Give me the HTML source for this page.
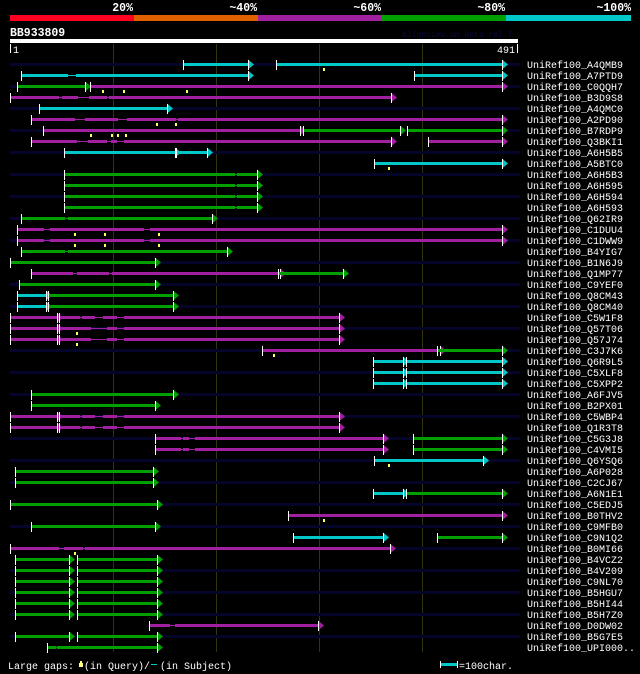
<!DOCTYPE html>
<html><head><meta charset="utf-8"><style>
body{margin:0;background:#000;width:640px;height:674px;overflow:hidden}
svg{display:block}
rect{shape-rendering:crispEdges}
text{font-family:"Liberation Mono",monospace}
</style></head><body>
<svg id="chart" width="640" height="674" viewBox="0 0 640 674" xmlns="http://www.w3.org/2000/svg">
<g>
<rect x="10" y="15" width="124" height="6" fill="#ff0020"/>
<rect x="134" y="15" width="124" height="6" fill="#e06000"/>
<rect x="258" y="15" width="124" height="6" fill="#a020a0"/>
<rect x="382" y="15" width="124" height="6" fill="#00a000"/>
<rect x="506" y="15" width="125" height="6" fill="#00c8c8"/>
<text x="133" y="11" fill="#fff" font-size="11.5" font-weight="bold" text-anchor="end">20%</text>
<text x="257" y="11" fill="#fff" font-size="11.5" font-weight="bold" text-anchor="end">~40%</text>
<text x="381" y="11" fill="#fff" font-size="11.5" font-weight="bold" text-anchor="end">~60%</text>
<text x="505" y="11" fill="#fff" font-size="11.5" font-weight="bold" text-anchor="end">~80%</text>
<text x="631" y="11" fill="#fff" font-size="11.5" font-weight="bold" text-anchor="end">~100%</text>
</g>
<text x="10" y="36" fill="#fff" font-size="11.5" font-weight="bold">BB933809</text>
<text x="402" y="37" fill="#0a0a40" font-size="8">AlignView.pm Beta rel.7</text>
<rect x="10" y="39" width="508" height="4" fill="#fff"/>
<rect x="10" y="44" width="1" height="9" fill="#fff"/>
<text x="13" y="53" fill="#fff" font-size="10">1</text>
<rect x="517" y="44" width="1" height="9" fill="#fff"/>
<text x="515" y="53" fill="#fff" font-size="10" text-anchor="end">491</text>
<g id="grid"></g>
<g id="rows"></g>
<g>
<text x="8" y="669" fill="#fff" font-size="10">Large gaps:</text>
<rect x="80" y="661" width="2" height="2" fill="#ffff80"/>
<rect x="79" y="663" width="4" height="4" fill="#ffff80"/>
<text x="84" y="669" fill="#fff" font-size="10">(in Query)/</text>
<rect x="151" y="664" width="6" height="1" fill="#00c8c8"/>
<text x="160" y="669" fill="#fff" font-size="10">(in Subject)</text>
<rect x="440" y="661" width="1" height="7" fill="#fff"/>
<rect x="441" y="663" width="16" height="3" fill="#00c8c8"/>
<rect x="457" y="661" width="1" height="7" fill="#fff"/>
<text x="459" y="669" fill="#fff" font-size="10">=100char.</text>
</g>
</svg>
<script>
const gridTicks = [100, 200, 300, 400];
const rowNames = ["A4QMB9","A7PTD9","C0QQH7","B3D9S8","A4QMC0","A2PD90","B7RDP9","Q3BKI1","A6H5B5","A5BTC0","A6H5B3","A6H595","A6H594","A6H593","Q62IR9","C1DUU4","C1DWW9","B4YIG7","B1N6J9","Q1MP77","C9YEF0","Q8CM43","Q8CM40","C5W1F8","Q57T06","Q57J74","C3J7K6","Q6R9L5","C5XLF8","C5XPP2","A6FJV5","B2PX01","C5WBP4","Q1R3T8","C5G3J8","C4VMI5","Q6YSQ6","A6P028","C2CJ67","A6N1E1","C5EDJ5","B0THV2","C9MFB0","C9N1Q2","B0MI66","B4VCZ2","B4V209","C9NL70","B5HGU7","B5HI44","B5H7Z0","D0DW02","B5G7E5","UPI000.."];
// segments: [queryStart, queryEnd, identityClass]
const rowSegs = [
 [[168,231,"c"],[258,478,"c"]],
 [[11,231,"c"],[392,478,"c"]],
 [[7,73,"g"],[78,478,"m"]],
 [[0,370,"m"]],
 [[28,152,"c"]],
 [[20,478,"m"]],
 [[32,282,"m"],[284,379,"g"],[385,478,"g"]],
 [[20,370,"m"],[406,478,"m"]],
 [[52,160,"c"],[161,191,"c"]],
 [[353,478,"c"]],
 [[52,240,"g"]],[[52,240,"g"]],[[52,240,"g"]],[[52,240,"g"]],
 [[11,196,"g"]],
 [[7,478,"m"]],[[7,478,"m"]],
 [[11,211,"g"]],
 [[0,141,"g"]],
 [[20,262,"m"],[260,323,"g"]],
 [[9,141,"g"]],
 [[7,35,"c"],[37,158,"g"]],[[7,35,"c"],[37,158,"g"]],
 [[0,46,"m"],[48,319,"m"]],[[0,46,"m"],[48,319,"m"]],[[0,46,"m"],[48,319,"m"]],
 [[245,417,"m"],[415,478,"g"]],
 [[352,382,"c"],[384,478,"c"]],[[352,382,"c"],[384,478,"c"]],[[352,382,"c"],[384,478,"c"]],
 [[20,158,"g"]],
 [[20,141,"g"]],
 [[0,46,"m"],[48,319,"m"]],[[0,46,"m"],[48,319,"m"]],
 [[141,362,"m"],[391,478,"g"]],[[141,362,"m"],[391,478,"g"]],
 [[353,459,"c"]],
 [[5,139,"g"]],[[5,139,"g"]],
 [[352,382,"c"],[384,478,"g"]],
 [[0,143,"g"]],
 [[270,478,"m"]],
 [[20,141,"g"]],
 [[275,362,"c"],[415,478,"g"]],
 [[0,369,"m"]],
 [[5,57,"g"],[65,143,"g"]],[[5,57,"g"],[65,143,"g"]],[[5,57,"g"],[65,143,"g"]],[[5,57,"g"],[65,143,"g"]],[[5,57,"g"],[65,143,"g"]],[[5,57,"g"],[65,143,"g"]],
 [[135,299,"m"]],
 [[5,57,"g"],[65,143,"g"]],
 [[36,143,"g"]]
];
// subject gaps [from, to] per row
const rowGaps = [
 [],[[56,64]],[],[[48,50],[66,77],[94,96]],[],[[63,73],[105,114],[161,163]],[],[[65,76],[94,98],[104,111]],[],[],
 [[218,220]],[[218,220]],[[218,220]],[[218,220]],[[53,56]],[[33,39],[130,136]],[[33,39],[130,136]],[[53,56]],[],[[61,65],[96,99]],
 [],[],[],[[68,70],[83,90],[104,111]],[[79,94],[104,111]],[[79,94],[104,111]],[],[],[],[],
 [],[],[[68,70],[83,90],[104,111]],[[68,70],[83,90],[104,111]],[[166,168],[174,180]],[[166,168],[174,180]],[],[],[],[],
 [],[],[],[],[[48,52],[71,73]],[],[],[],[],[],[],[[155,160]],[],[[45,46]]
];
// query gap markers per row
const rowMarks = [
 [304],[],[89,110,171],[],[],[142,160],[78,98,104,112],[],[],[367],
 [],[],[],[],[],[62,91,144],[62,91,144],[],[],[],
 [],[],[],[],[64],[64],[255],[],[],[],
 [],[],[],[],[],[],[367],[],[],[],
 [],[304],[],[],[62],[],[],[],[],[],[],[],[],[]
];
const colors = {c:"#00c8c8", m:"#a020a0", g:"#00a000"};
const X0 = 10, SCALE = 1.03, ROW0 = 64, ROWH = 11;
function xs(q){ return Math.round(X0 + q*SCALE); }
function ys(i){ return ROW0 + i*ROWH; }
const NS = "http://www.w3.org/2000/svg";
function mk(tag, attrs, parent){
  const el = document.createElementNS(NS, tag);
  for (const k in attrs) el.setAttribute(k, attrs[k]);
  parent.appendChild(el);
  return el;
}
const grid = document.getElementById('grid');
gridTicks.forEach(t => {
  const l = mk('rect', {x: xs(t), y: 44, width: 1, height: 608, fill: '#34340c'}, grid);
  
  
});
const rows = document.getElementById('rows');
rowNames.forEach((name, i) => {
  const y = ys(i);
  const g = mk('g', {}, rows);
  
  
  if (i % 2 === 0) {
    const bg = mk('rect', {x: 10, y: y-1, width: 510, height: 3, fill: '#05052a'}, g);
    
    
  }
  const segs = rowSegs[i] || [];
  const gaps = rowGaps[i] || [];
  segs.forEach(s => {
    const col = colors[s[2]];
    const x1 = xs(s[0]), x2 = xs(s[1]);
    let cur = x1;
    const inGaps = gaps.filter(gp => gp[0] >= s[0] && gp[1] <= s[1]).sort((a,b)=>a[0]-b[0]);
    inGaps.forEach(gp => {
      const a = xs(gp[0]), b = xs(gp[1]);
      mk('rect', {x: cur, y: y-1, width: Math.max(0,a-cur), height: 3, fill: col}, g);
      const gl = mk('rect', {x: a, y: y, width: Math.max(1,b-a), height: 1, fill: col}, g);
      
      
      cur = b;
    });
    const bar = mk('rect', {x: cur, y: y-1, width: Math.max(0,x2-cur), height: 3, fill: col}, g);
    
    
    const tk = mk('rect', {x: x1, y: y-4, width: 1, height: 10, fill: '#fff'}, g);
    
    
    const ar = mk('polygon', {points: `${x2},${y-4.5} ${x2+6},${y+0.5} ${x2},${y+5.5}`, fill: col}, g);
    
    
    mk('rect', {x: x2, y: y-4, width: 1, height: 10, fill: '#fff'}, g);
  });
  (rowMarks[i] || []).forEach(q => {
    const mx = xs(q);
    const m = mk('rect', {x: mx, y: y+4, width: 2, height: 3, fill: '#ffff60'}, g);
    
    
  });
  const t = mk('text', {x: 527, y: y+4, fill: '#fff', 'font-size': 10}, g);
  
  
  t.textContent = 'UniRef100_' + name;
});
</script>
</body></html>
